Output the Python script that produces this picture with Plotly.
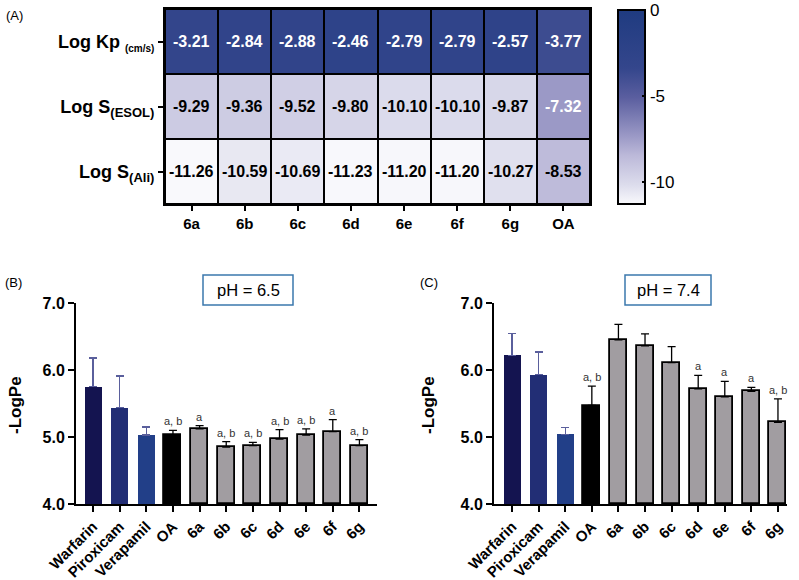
import plotly.graph_objects as go

FONT = "Arial, Liberation Sans, sans-serif"

# ---------------- Panel A data ----------------
hm_cols = ["6a", "6b", "6c", "6d", "6e", "6f", "6g", "OA"]
hm_rows = ["<b>Log Kp </b><sub><span style='font-size:10px'><b>(cm/s)</b></span></sub>",
           "<b>Log S</b><sub><span style='font-size:13px'><b>(ESOL)</b></span></sub>",
           "<b>Log S</b><sub><span style='font-size:13px'><b>(Ali)</b></span></sub>"]
log_kp = [-3.21, -2.84, -2.88, -2.46, -2.79, -2.79, -2.57, -3.77]
log_s_esol = [-9.29, -9.36, -9.52, -9.80, -10.10, -10.10, -9.87, -7.32]
log_s_ali = [-11.26, -10.59, -10.69, -11.23, -11.20, -11.20, -10.27, -8.53]
cb_ticks = [0, -5, -10]

# ---------------- Panels B / C data ----------------
bar_cats = ["Warfarin", "Piroxicam", "Verapamil", "OA", "6a", "6b", "6c", "6d", "6e", "6f", "6g"]
ph65_mean = [5.75, 5.44, 5.03, 5.03, 5.12, 4.85, 4.87, 4.97, 5.03, 5.08, 4.87]
ph65_err = [0.43, 0.47, 0.12, 0.07, 0.05, 0.08, 0.05, 0.14, 0.09, 0.18, 0.09]
ph65_sig = ["", "", "", "a, b", "a", "a, b", "a, b", "a, b", "a, b", "a", "a, b"]
ph74_mean = [6.22, 5.93, 5.04, 5.47, 6.45, 6.36, 6.11, 5.72, 5.60, 5.68, 5.22]
ph74_err = [0.33, 0.34, 0.10, 0.29, 0.23, 0.18, 0.24, 0.20, 0.23, 0.06, 0.35]
ph74_sig = ["", "", "", "a, b", "", "", "", "a", "a", "a", "a, b"]
y_ticks = [4.0, 5.0, 6.0, 7.0]

bar_colors = ["#141450", "#222e75", "#223f88", "#000000"] + ["#a19da1"] * 7
err_colors = ["#5a5f9c", "#5a5f9c", "#5a5f9c", "#000000"] + ["#000000"] * 7

fig = go.Figure()

# ---------------- Heatmap ----------------
z = [log_kp, log_s_esol, log_s_ali]
fig.add_trace(go.Heatmap(
    z=z, x=list(range(len(hm_cols))), y=list(range(len(hm_rows))),
    zmin=-11.26, zmax=0,
    colorscale=[[0.0, "#f9f9fc"], [0.1, "#dcdcec"], [0.25, "#bcb9d9"], [0.35, "#9b99c6"],
                [0.55, "#5a5e9f"], [0.7, "#34468c"], [1.0, "#1f3b80"]],
    xgap=2, ygap=2, xaxis="x", yaxis="y", hoverinfo="skip",
    colorbar=dict(x=618 / 799, xanchor="left", y=1 - 10 / 580, yanchor="top",
                  len=194 / 580, lenmode="fraction", xpad=0, ypad=0,
                  thickness=27, outlinewidth=2, outlinecolor="black",
                  tickvals=cb_ticks, ticktext=[str(v) for v in cb_ticks],
                  ticks="inside", ticklen=4, tickcolor="black", tickwidth=2,
                  tickfont=dict(family=FONT, size=17, color="black")),
))
for r, row in enumerate(z):
    for c, v in enumerate(row):
        white = (r == 0) or (v > -8)
        fig.add_annotation(x=c, y=r, xref="x", yref="y", text=f"<b>{v:.2f}</b>", showarrow=False,
                           font=dict(family=FONT, size=16, color="white" if white else "black"))
fig.add_shape(type="rect", xref="x domain", yref="y domain", x0=0, x1=1, y0=0, y1=1,
              fillcolor="black", line=dict(width=0), layer="below")

# ---------------- Bar panels ----------------
def add_bars(means, errs, xa, ya):
    for i, cat in enumerate(bar_cats):
        outline = 1.8 if i >= 3 else 0
        fig.add_trace(go.Bar(
            x=[i], y=[means[i] - 4.0], base=4.0, width=0.64, xaxis=xa, yaxis=ya,
            marker=dict(color=bar_colors[i], line=dict(color="black", width=outline)),
            error_y=dict(type="data", array=[errs[i]], arrayminus=[0], symmetric=False,
                         color=err_colors[i], thickness=1.3, width=4),
            showlegend=False, hoverinfo="skip"))

def add_sig(means, errs, sig, xr, yr):
    for i, s in enumerate(sig):
        if s:
            fig.add_annotation(x=i, y=means[i] + errs[i], xref=xr, yref=yr, text=s, showarrow=False,
                               xanchor="center", yanchor="bottom", yshift=1,
                               font=dict(family=FONT, size=11, color="#333333"))

add_bars(ph65_mean, ph65_err, "x2", "y2")
add_bars(ph74_mean, ph74_err, "x3", "y3")
add_sig(ph65_mean, ph65_err, ph65_sig, "x2", "y2")
add_sig(ph74_mean, ph74_err, ph74_sig, "x3", "y3")

bar_x_common = dict(tickvals=list(range(len(bar_cats))), ticktext=[f"<b>{c}</b>" for c in bar_cats],
                    tickangle=-45, ticks="outside", ticklen=6, tickwidth=2, tickcolor="black",
                    showline=True, linewidth=2, linecolor="black", showgrid=False, zeroline=False,
                    tickfont=dict(family=FONT, size=15, color="black"), automargin=False)
bar_y_common = dict(range=[4.0, 7.0], tickvals=y_ticks, ticktext=[f"<b>{v:.1f}</b>" for v in y_ticks],
                    ticks="outside", ticklen=6, tickwidth=2, tickcolor="black",
                    showline=True, linewidth=2, linecolor="black", showgrid=False, zeroline=False,
                    tickfont=dict(family=FONT, size=16, color="black"), automargin=False)

fig.update_layout(
    width=799, height=580, margin=dict(l=0, r=0, t=0, b=0),
    paper_bgcolor="white", plot_bgcolor="white", bargap=0,
    font=dict(family=FONT, color="black"),
    xaxis=dict(domain=[165 / 799, 590 / 799], range=[-0.5, 7.5], tickvals=list(range(len(hm_cols))),
               ticktext=[f"<b>{c}</b>" for c in hm_cols], ticks="outside", ticklen=5, tickwidth=2,
               tickcolor="black", showline=True, mirror=True, linewidth=2, linecolor="black",
               showgrid=False, zeroline=False, tickfont=dict(family=FONT, size=15, color="black"),
               anchor="y", automargin=False),
    yaxis=dict(domain=[1 - 204 / 580, 1 - 9 / 580], range=[2.5, -0.5], tickvals=list(range(len(hm_rows))),
               ticktext=hm_rows, ticks="outside", ticklen=5, tickwidth=2,
               tickcolor="black", showline=True, mirror=True, linewidth=2, linecolor="black",
               showgrid=False, zeroline=False, tickfont=dict(family=FONT, size=18, color="black"),
               anchor="x", automargin=False),
    xaxis2=dict(domain=[76 / 799, 377 / 799], range=[-0.64, 10.66], anchor="y2", **bar_x_common),
    yaxis2=dict(domain=[1 - 504 / 580, 1 - 303 / 580], anchor="x2", **bar_y_common),
    xaxis3=dict(domain=[494 / 799, 787 / 799], range=[-0.68, 10.34], anchor="y3", **bar_x_common),
    yaxis3=dict(domain=[1 - 504 / 580, 1 - 303 / 580], anchor="x3", **bar_y_common),
)

# y titles of bar panels
for xp in (15, 428):
    fig.add_annotation(x=xp / 799, y=1 - 405 / 580, xref="paper", yref="paper", text="<b>-LogPe</b>",
                       textangle=-90, showarrow=False, xanchor="center", yanchor="middle",
                       font=dict(family=FONT, size=17, color="black"))

# panel letters and pH boxes
for txt, xp, yp in [("(A)", 4, 6), ("(B)", 3, 273), ("(C)", 418, 273)]:
    fig.add_annotation(x=xp / 799, y=1 - yp / 580, xref="paper", yref="paper", text=txt,
                       showarrow=False, xanchor="left", yanchor="top",
                       font=dict(family=FONT, size=13, color="black"))
for txt, x0, x1 in [("pH = 6.5", 203, 293), ("pH = 7.4", 625, 711)]:
    fig.add_shape(type="rect", xref="paper", yref="paper", x0=x0 / 799, x1=x1 / 799,
                  y0=1 - 305 / 580, y1=1 - 275 / 580, line=dict(color="#3b78ad", width=1.5),
                  fillcolor="white", layer="below")
    fig.add_annotation(x=(x0 + x1) / 2 / 799, y=1 - 290 / 580, xref="paper", yref="paper", text=txt,
                       showarrow=False, xanchor="center", yanchor="middle",
                       font=dict(family=FONT, size=16.5, color="black"))

fig.write_html("out.html", config={"displayModeBar": False},
               post_script="document.body.style.margin='0px';document.body.style.padding='0px';"
                           "document.body.style.overflow='hidden';")
